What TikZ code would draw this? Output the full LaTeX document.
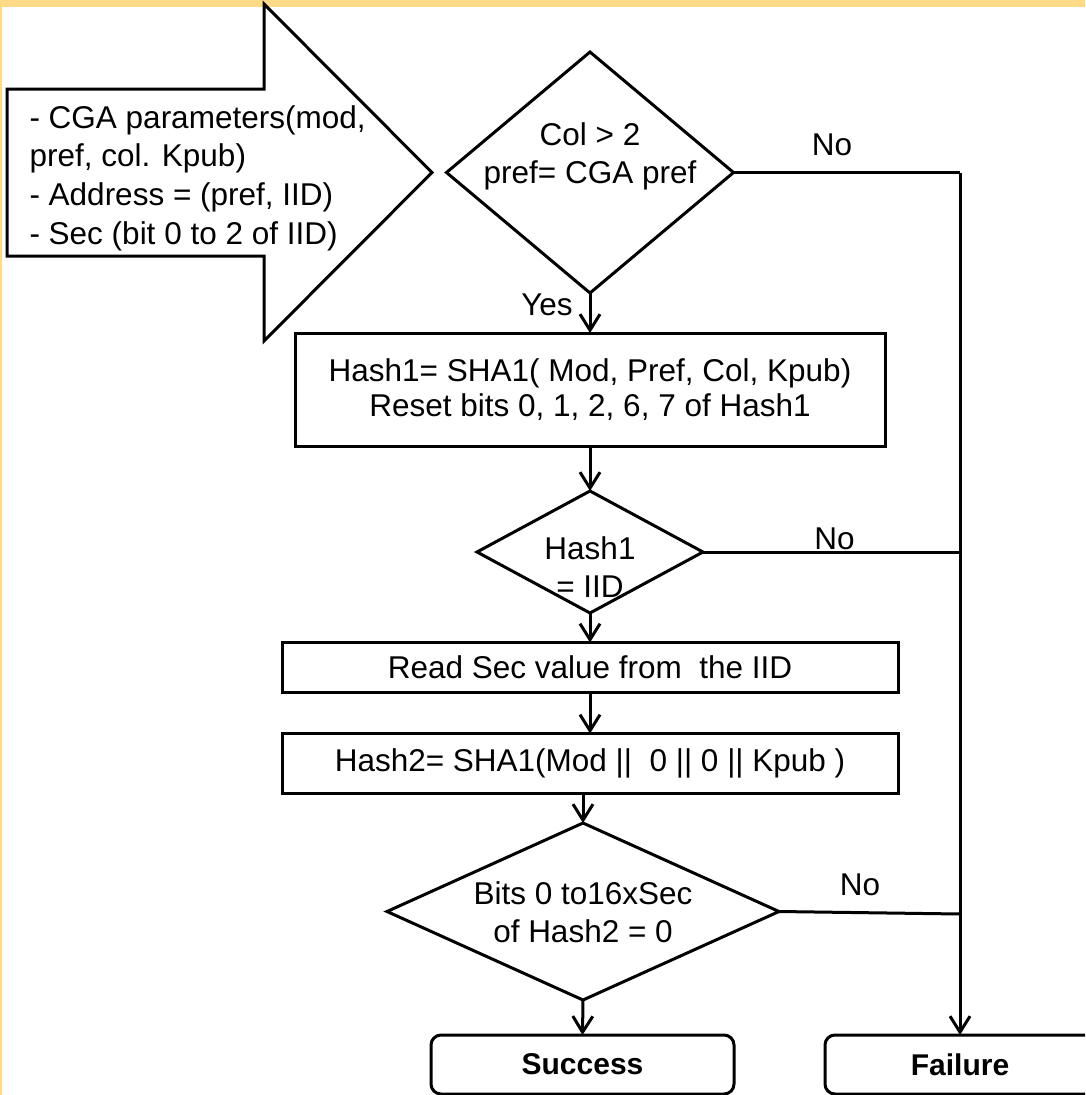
\documentclass[tikz,border=0pt]{standalone}
\usepackage{fontspec}
\setmainfont{Liberation Sans}
\usetikzlibrary{shapes.geometric,arrows.meta,calc}
\definecolor{bandyellow}{RGB}{255,218,134}
\begin{document}
\begin{tikzpicture}[x=1pt,y=-1pt,
  line width=3pt,
  txt/.style={font=\fontsize{31.5}{38}\selectfont, inner sep=0pt, align=center},
  dia/.style={diamond, draw, inner sep=0pt, outer sep=0pt},
  stepbox/.style={rectangle, draw, outer sep=0pt, txt},
  endbox/.style={rectangle, draw, outer sep=0pt, rounded corners=10pt,
    font=\fontsize{30}{36}\selectfont\bfseries},
  arr/.style={-{Straight Barb[length=16pt,width=20pt]}}]

\useasboundingbox (0,0) rectangle (1085,1095);
\clip (0,0) rectangle (1085,1095);

% page frame accents
\fill[bandyellow] (0,0) rectangle (1085,7);
\fill[bandyellow] (0,0) rectangle (2,1095);

% input block arrow
\draw[fill=white] (7,89) -- (264,89) -- (264,4) -- (432,172.5) -- (264,341)
  -- (264,256) -- (7,256) -- cycle;
\node[txt, anchor=west, align=left, font=\fontsize{31.5}{38.7}\selectfont] (inp) at (28,178)
  {- CGA parameters(mod,\\pref, col. Kpub)\\- Address = (pref, IID)\\- Sec (bit 0 to 2 of IID)};

% first test
\node[dia, minimum width=287pt, minimum height=241pt] (d1) at (590,172.5) {};
\node[txt] (t1) at (590,156) {Col > 2\\pref= CGA pref};

% hash computation
\node[stepbox, minimum width=590pt, minimum height=113pt,
  font=\fontsize{31.5}{35}\selectfont] (b1) at (590,389.5)
  {Hash1= SHA1( Mod, Pref, Col, Kpub)\\Reset bits 0, 1, 2, 6, 7 of Hash1};

% second test
\node[dia, minimum width=226pt, minimum height=122pt] (d2) at (590,552) {};
\node[txt] (t2) at (590,567) {Hash1\\= IID};

\node[stepbox, minimum width=616pt, minimum height=50pt] (b3) at (590,667.5)
  {Read Sec value from\ \ the IID};
\node[stepbox, minimum width=616pt, minimum height=60pt] (b4) at (590,763.5)
  {Hash2= SHA1(Mod ||\ \ 0 || 0 || Kpub )};

% third test
\node[dia, minimum width=392pt, minimum height=177pt] (d3) at (583,911.5) {};
\node[txt] (t3) at (583,912.5) {Bits 0 to16xSec\\of Hash2 = 0};

% outcomes
\node[endbox, minimum width=303pt, minimum height=59pt] (succ) at (582.5,1064.5) {Success};
\node[endbox, minimum width=270pt, minimum height=59pt] (fail) at (960,1064.5) {Failure};

% main flow
\draw[arr] (d1.south) -- (b1.north);
\draw[arr] (b1.south) -- (d2.north);
\draw[arr] (d2.south) -- (b3.north);
\draw[arr] (b3.south) -- (b4.north);
\draw[arr] (b4.south -| d3.north) -- (d3.north);
\draw[arr] (d3.south) -- (succ.north);

% failure branches
\coordinate (j1) at (d1.east -| fail.north);
\draw (d1.east) -- (j1);
\draw[arr] (j1) -- (fail.north);
\draw (d2.east) -- (d2.east -| j1);
\coordinate (j3) at (960,914);
\draw (d3.east) -- (j3);

% branch labels
\node[txt] (no1) at (832,145) {No};
\node[txt] (no2) at (834.5,539) {No};
\node[txt] (no3) at (860,885) {No};
\node[txt] (yes) at (547,305) {Yes};
\end{tikzpicture}
\end{document}
